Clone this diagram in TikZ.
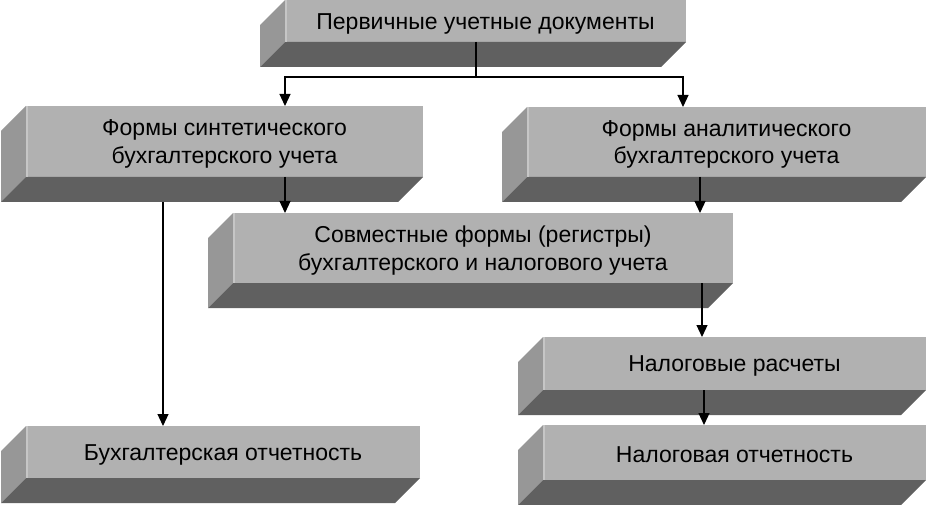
\documentclass[tikz,border=0pt]{standalone}
\usepackage{fontspec}
\setmainfont{Liberation Sans}
\usetikzlibrary{arrows.meta,calc}
\definecolor{frontc}{HTML}{B1B1B1}
\definecolor{sidec}{HTML}{979797}
\definecolor{bottomc}{HTML}{606060}
\definecolor{hilite}{HTML}{C6C6C6}
\tikzset{
  frontbox/.style={fill=frontc, inner sep=0pt, outer sep=0pt},
  boxtext/.style={inner sep=0pt, align=center,
    font=\fontsize{23}{27.5}\selectfont, text=black},
  arr/.style={line width=1.2pt, -{Triangle[length=12pt,width=11pt]}},
  ln/.style={line width=1.2pt}
}
\newcommand\boxthreed[6]{%
  \node[frontbox, minimum width={#4-#2}, minimum height={#5-#3}] (#1) at ({(#2+#4)/2},{(#3+#5)/2}) {};
  \fill[sidec] (#1.north west) -- (#1.south west) -- ++(-25,25) -- ($(#1.north west)+(-25,25)$) -- cycle;
  \fill[bottomc] (#1.south west) -- (#1.south east) -- ++(-25,25) -- ($(#1.south west)+(-25,25)$) -- cycle;
  \draw[hilite, line width=1.5pt] ([xshift=1pt]#1.north west) -- ([xshift=1pt]#1.south west);
  \node[boxtext] (#1t) at ([yshift=-2.5pt]#1.center) {#6};
}
\begin{document}
\begin{tikzpicture}[x=1pt, y=-1pt]
\useasboundingbox (0,0) rectangle (926,505);
\clip (0,0) rectangle (926,505);
\boxthreed{b1}{285}{0}{686}{42}{Первичные учетные документы}
\boxthreed{b2}{26}{106}{423}{177}{Формы синтетического\\бухгалтерского учета}
\boxthreed{b3}{527}{107}{926}{177}{Формы аналитического\\бухгалтерского учета}
\boxthreed{b4}{233}{213}{733}{283}{Совместные формы (регистры)\\бухгалтерского и налогового учета}
\boxthreed{b5}{543}{337}{926}{390}{Налоговые расчеты}
\boxthreed{b6}{543}{425}{926}{480}{Налоговая отчетность}
\boxthreed{b7}{26}{426}{420}{478}{Бухгалтерская отчетность}
\coordinate (j1) at (476,77);
\coordinate (a285) at (285,0);
\coordinate (a683) at (683,0);
\coordinate (a700) at (700,0);
\coordinate (a163) at (163,0);
\coordinate (a702) at (702,0);
\coordinate (a704) at (704,0);
\draw[ln] (b1.south -| j1) -- (j1);
\draw[arr] (j1) -| (b2.north -| a285);
\draw[arr] (j1) -| (b3.north -| a683);
\draw[arr] (b2.south -| a285) -- (b4.north -| a285);
\draw[arr] (b3.south -| a700) -- (b4.north -| a700);
\draw[arr] ($(b2.south -| a163)+(0,25)$) -- (b7.north -| a163);
\draw[arr] (b4.south -| a702) -- (b5.north -| a702);
\draw[arr] (b5.south -| a704) -- (b6.north -| a704);
\end{tikzpicture}
\end{document}
